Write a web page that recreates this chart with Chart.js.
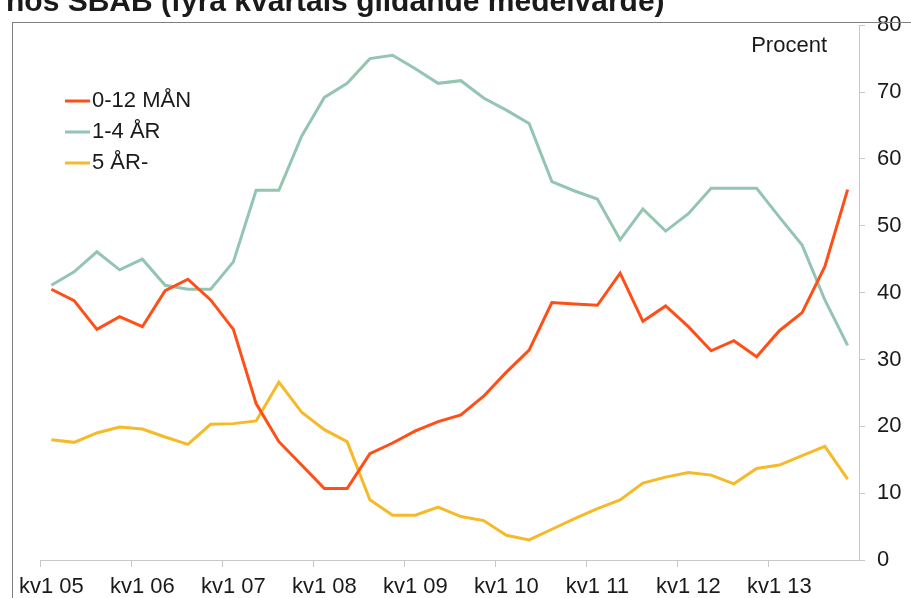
<!DOCTYPE html>
<html>
<head>
<meta charset="utf-8">
<script src="https://cdn.jsdelivr.net/npm/chart.js@4.4.1/dist/chart.umd.min.js"></script>
<style>
  body { margin: 0; background: #fff; overflow: hidden; }
</style>
</head>
<body>
<canvas id="chart" width="911" height="598"></canvas>
<script>
const titleText = 'hos SBAB (fyra kvartals glidande medelvärde)';
const unitText = 'Procent';

const quarters = [
    'kv1 05', 'kv2 05', 'kv3 05', 'kv4 05',
    'kv1 06', 'kv2 06', 'kv3 06', 'kv4 06',
    'kv1 07', 'kv2 07', 'kv3 07', 'kv4 07',
    'kv1 08', 'kv2 08', 'kv3 08', 'kv4 08',
    'kv1 09', 'kv2 09', 'kv3 09', 'kv4 09',
    'kv1 10', 'kv2 10', 'kv3 10', 'kv4 10',
    'kv1 11', 'kv2 11', 'kv3 11', 'kv4 11',
    'kv1 12', 'kv2 12', 'kv3 12', 'kv4 12',
    'kv1 13', 'kv2 13', 'kv3 13', 'kv4 13'
];

const shortRate = [40.5, 38.8, 34.5, 36.4, 34.9, 40.3, 42.0, 38.9, 34.5, 23.4, 17.7, 14.2,
    10.7, 10.7, 15.9, 17.5, 19.3, 20.7, 21.7, 24.5, 28.1, 31.4, 38.5, 38.3,
    38.1, 42.9, 35.7, 38.0, 34.9, 31.3, 32.8, 30.4, 34.3, 37.0, 43.9, 55.4];

const midRate = [41.1, 43.1, 46.1, 43.4, 45.0, 41.1, 40.5, 40.5, 44.6, 55.3, 55.3, 63.4,
    69.2, 71.3, 75.0, 75.5, 73.5, 71.3, 71.7, 69.1, 67.3, 65.3, 56.6, 55.2,
    54.0, 47.9, 52.5, 49.2, 51.8, 55.6, 55.6, 55.6, 51.3, 47.1, 38.9, 32.1];

const longRate = [18.0, 17.6, 19.0, 19.9, 19.6, 18.4, 17.3, 20.3, 20.4, 20.8, 26.6, 22.1,
    19.5, 17.7, 9.0, 6.7, 6.7, 7.9, 6.5, 5.9, 3.7, 3.0, 4.6, 6.2,
    7.7, 9.0, 11.5, 12.4, 13.1, 12.7, 11.4, 13.7, 14.2, 15.6, 17.0, 12.1];

const seriesNames = ['0-12 MÅN', '1-4 ÅR', '5 ÅR-'];
const seriesColors = ['#ff4f17', '#93c5b1', '#f6b928'];

const textColor = '#1a1a1a';
const fontFamily = '"Liberation Sans", Arial, sans-serif';

// frame, clipped title, unit text and the inline legend
const decorations = {
    id: 'decorations',
    afterDraw(chart) {
        const ctx = chart.ctx;
        ctx.save();
        ctx.strokeStyle = '#7f7f7f';
        ctx.lineWidth = 1;
        ctx.strokeRect(12.5, 22.5, 1000, 1000);

        ctx.fillStyle = textColor;
        ctx.font = 'bold 30px ' + fontFamily;
        ctx.textAlign = 'left';
        ctx.textBaseline = 'alphabetic';
        ctx.fillText(titleText, 6, 11);

        ctx.font = '22px ' + fontFamily;
        ctx.textAlign = 'right';
        ctx.textBaseline = 'middle';
        ctx.fillText(unitText, 827, 46);

        ctx.textAlign = 'left';
        chart.data.datasets.forEach((ds, i) => {
            const y = 101 + i * 31;
            ctx.strokeStyle = ds.borderColor;
            ctx.lineWidth = 3;
            ctx.beginPath();
            ctx.moveTo(65, y);
            ctx.lineTo(90, y);
            ctx.stroke();
            ctx.fillStyle = textColor;
            ctx.fillText(ds.label, 92, y);
        });
        ctx.restore();
    }
};

const datasets = [shortRate, midRate, longRate].map((values, i) => ({
    label: seriesNames[i],
    data: values,
    borderColor: seriesColors[i],
    backgroundColor: seriesColors[i],
    borderWidth: 3,
    pointRadius: 0,
    tension: 0,
    fill: false
}));

new Chart(document.getElementById('chart').getContext('2d'), {
    type: 'line',
    data: { labels: quarters, datasets: datasets },
    options: {
        responsive: false,
        animation: false,
        layout: { padding: { left: 40, top: 25, right: 0, bottom: 0 } },
        plugins: { legend: { display: false }, tooltip: { enabled: false } },
        scales: {
            x: {
                offset: true,
                grid: {
                    offset: true,
                    drawOnChartArea: false,
                    tickLength: 7,
                    color: ctx => ctx.index % 4 === 0 ? '#c8c8c8' : 'rgba(0,0,0,0)'
                },
                border: { display: true, color: '#c8c8c8' },
                ticks: {
                    autoSkip: false,
                    maxRotation: 0,
                    padding: 7,
                    color: textColor,
                    font: { family: fontFamily, size: 22 },
                    callback: (val, i) => i % 4 === 0 ? quarters[i] : ''
                },
                afterFit: scale => { scale.height = 38; }
            },
            y: {
                position: 'right',
                min: 0,
                max: 80,
                grid: { drawOnChartArea: false, tickLength: 6, color: '#c8c8c8' },
                border: { display: true, color: '#c8c8c8' },
                ticks: {
                    stepSize: 10,
                    padding: 12,
                    color: textColor,
                    font: { family: fontFamily, size: 22 }
                },
                afterFit: scale => { scale.width = 52; }
            }
        }
    },
    plugins: [decorations]
});
</script>
</body>
</html>
